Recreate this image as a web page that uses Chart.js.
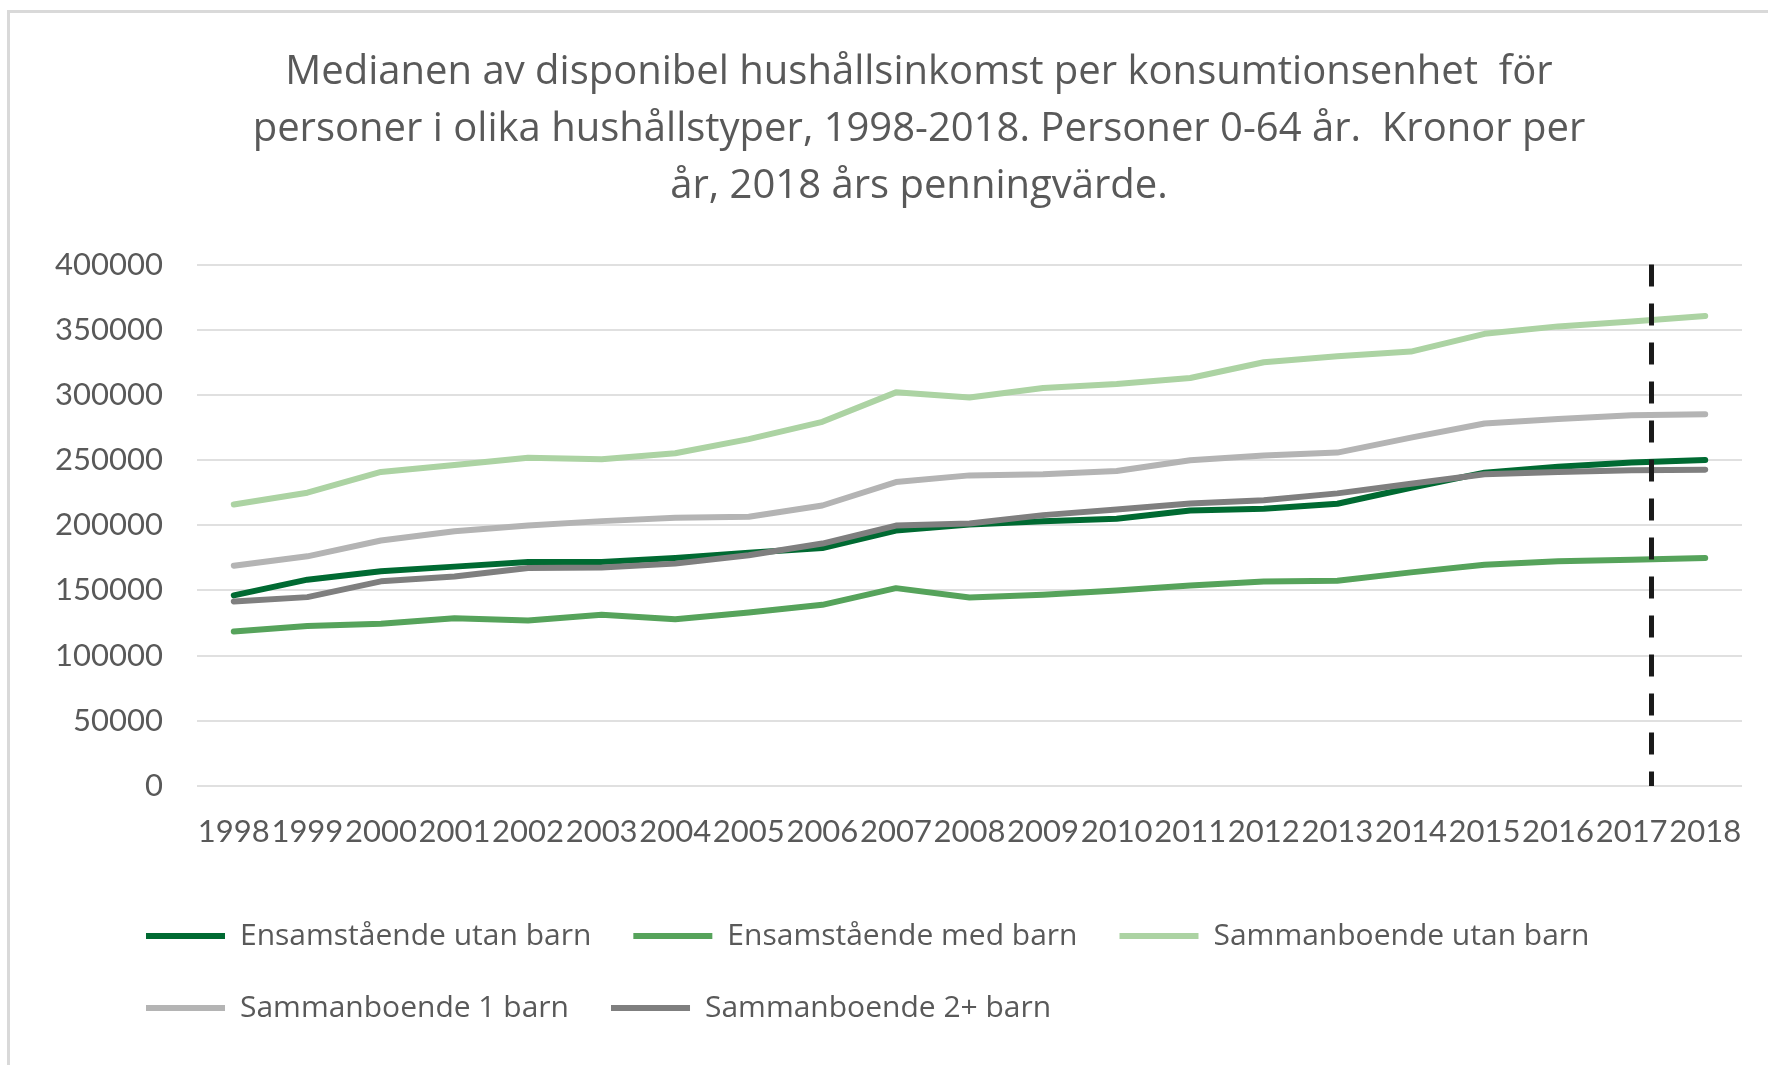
<!DOCTYPE html>
<html>
<head>
<meta charset="utf-8">
<script src="https://cdn.jsdelivr.net/npm/chart.js@4.4.1/dist/chart.umd.min.js"></script>
<style>
  html, body { margin: 0; padding: 0; background: #fff; overflow: hidden; }
  #frame {
    position: absolute; left: 7px; top: 10px; width: 1800px; height: 1100px;
    border-left: 3px solid #d9d9d9; border-top: 3px solid #d9d9d9;
  }
  #wrap { position: absolute; left: 0; top: 0; width: 1788px; height: 1065px; }
</style>
</head>
<body>
<div id="frame"></div>
<div id="wrap"><canvas id="chart"></canvas></div>
<script>
const years = ["1998", "1999", "2000", "2001", "2002", "2003", "2004", "2005", "2006", "2007",
    "2008", "2009", "2010", "2011", "2012", "2013", "2014", "2015", "2016", "2017", "2018"];

// kronor per år, 2018 års penningvärde
const ensamUtanBarn = [146200, 158300, 164700, 168300, 171800, 171800, 175000, 179000, 182600, 196000,
    200600, 203200, 205000, 211400, 212700, 216500, 228800, 240400, 245000, 248100, 250100];
const ensamMedBarn = [118500, 122800, 124400, 128700, 126900, 131300, 127900, 133100, 139000, 151800,
    144600, 146700, 150000, 153900, 156900, 157500, 163900, 169800, 172400, 173600, 174900];
const sambUtanBarn = [216000, 225000, 240900, 246300, 251900, 250700, 255300, 266100, 279400, 302000,
    298100, 305300, 308400, 313000, 325100, 329700, 333300, 346900, 352600, 356400, 360500];
const samb1Barn = [169000, 176200, 188300, 195500, 199800, 203200, 205700, 206500, 215200, 233200,
    238300, 239100, 241700, 249900, 253500, 255800, 267300, 278100, 281500, 284500, 285100];
const samb2Barn = [141600, 144900, 157000, 160800, 167200, 167700, 170600, 177000, 186000, 199800,
    201400, 207800, 212200, 216800, 219300, 224500, 231900, 239100, 240900, 242200, 242700];

const seriesNames = ["Ensamstående utan barn", "Ensamstående med barn", "Sammanboende utan barn",
    "Sammanboende 1 barn", "Sammanboende 2+ barn"];
const seriesColors = ["#006a32", "#56a35b", "#acd3a3", "#b4b4b4", "#7f7f7f"];

const yTicks = [0, 50000, 100000, 150000, 200000, 250000, 300000, 350000, 400000];

// streckad linje strax efter 2017 (kategoriindex)
const breakPos = 19.27;

const titleLines = [
    "Medianen av disponibel hushållsinkomst per konsumtionsenhet  för",
    "personer i olika hushållstyper, 1998-2018. Personer 0-64 år.  Kronor per",
    "år, 2018 års penningvärde.",
];

const textColor = "#595959";
const legendLeft = 104;
Chart.defaults.font.family = "Lato, 'Open Sans', sans-serif";
Chart.defaults.color = textColor;

const allSeries = [ensamUtanBarn, ensamMedBarn, sambUtanBarn, samb1Barn, samb2Barn];

const dashedLine = {
    id: "dashedLine",
    afterDatasetsDraw(chart) {
        const { ctx, scales } = chart;
        const x = scales.x.getPixelForValue(breakPos);
        const top = scales.y.getPixelForValue(yTicks[yTicks.length - 1]);
        const bottom = scales.y.getPixelForValue(0);
        ctx.save();
        ctx.strokeStyle = "#1a1a1a";
        ctx.lineWidth = 5;
        ctx.setLineDash([22, 17]);
        ctx.beginPath();
        ctx.moveTo(x, top);
        ctx.lineTo(x, bottom);
        ctx.stroke();
        ctx.restore();
    },
};

// flytta legenden så att den börjar i linje med diagrammet
const legendShift = {
    id: "legendShift",
    afterLayout(chart) {
        if (chart.legend) chart.legend.left = legendLeft;
    },
};

new Chart(document.getElementById("chart"), {
    type: "line",
    data: {
        labels: years,
        datasets: allSeries.map((values, i) => ({
            label: seriesNames[i],
            data: values,
            borderColor: seriesColors[i],
            backgroundColor: seriesColors[i],
            borderWidth: 6,
            borderCapStyle: "round",
            borderJoinStyle: "round",
            pointRadius: 0,
            tension: 0,
            order: allSeries.length - i, // senare serier ritas överst
        })),
    },
    options: {
        responsive: true,
        maintainAspectRatio: false,
        animation: false,
        layout: { padding: { left: 50, right: 0, top: 0, bottom: 32 } },
        plugins: {
            title: {
                display: true,
                text: titleLines,
                color: textColor,
                font: { family: "'Open Sans'", size: 40, weight: "normal", lineHeight: 1.43 },
                padding: { top: 44, bottom: 49 },
            },
            legend: {
                position: "bottom",
                align: "start",
                labels: {
                    usePointStyle: true,
                    pointStyle: "line",
                    pointStyleWidth: 79,
                    padding: 42,
                    color: textColor,
                    font: { family: "'Open Sans'", size: 30 },
                    sort: (a, b) => a.datasetIndex - b.datasetIndex,
                },
            },
            tooltip: { enabled: false },
        },
        scales: {
            x: {
                offset: true,
                grid: { display: false, drawTicks: false },
                border: { display: false },
                ticks: {
                    autoSkip: false,
                    maxRotation: 0,
                    minRotation: 0,
                    padding: 27,
                    font: { size: 31 },
                    color: textColor,
                },
                afterFit: (scale) => { scale.height = 93; },
            },
            y: {
                min: 0,
                max: 400000,
                grid: { color: "#e0e0e0", lineWidth: 2, drawTicks: false },
                border: { display: false },
                afterBuildTicks: (scale) => { scale.ticks = yTicks.map((v) => ({ value: v })); },
                ticks: {
                    padding: 34,
                    font: { size: 31 },
                    color: textColor,
                    callback: (v) => String(v),
                },
                afterFit: (scale) => { scale.width = 147; },
            },
            // tom axel till höger som håller plats (diagrammet är beskuret i högerkanten)
            yRight: {
                position: "right",
                display: true,
                grid: { display: false, drawTicks: false },
                border: { display: false },
                ticks: { display: false },
                afterFit: (scale) => { scale.width = 46; },
            },
        },
    },
    plugins: [dashedLine, legendShift],
});
</script>
</body>
</html>
